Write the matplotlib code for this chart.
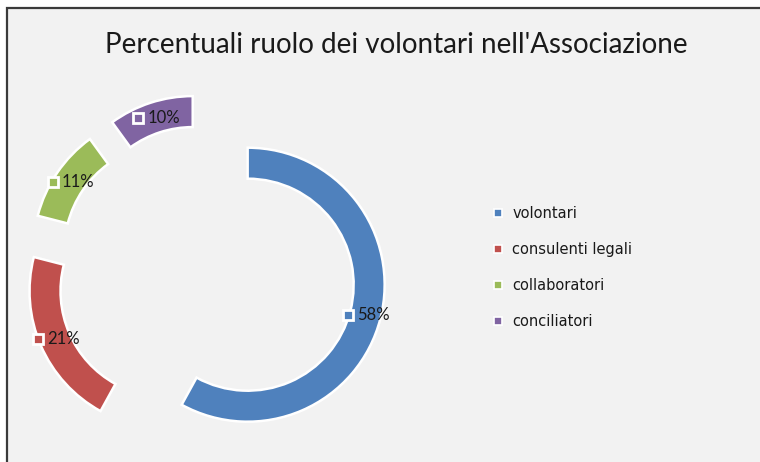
import numpy as np
import matplotlib
matplotlib.use("Agg")
import matplotlib.pyplot as plt
from matplotlib.patches import Rectangle
from matplotlib.lines import Line2D

# ---- data ----
categories = ["volontari", "consulenti legali", "collaboratori", "conciliatori"]
values = [58, 21, 11, 10]
label_texts = ["58%", "21%", "11%", "10%"]
title = "Percentuali ruolo dei volontari nell'Associazione"

colors = ["#4F81BD", "#C0504D", "#9BBB59", "#8064A2"]
W, H = 760, 462
fig = plt.figure(figsize=(W / 100, H / 100), dpi=100, facecolor="white")

# chart-area frame (extends past right/bottom edges like the reference crop)
frame = Rectangle((7 / W, -0.1), 1.2, 1 - 8 / H + 0.1, transform=fig.transFigure,
                  facecolor="#F2F2F2", edgecolor="#3A3A3A", linewidth=1.6, zorder=-10)
fig.patches.append(frame)

# axes covering whole figure: 1 data unit = R px
R = 137.0
cx, cy = 206.0, 274.0
ax = fig.add_axes([0, 0, 1, 1])
ax.set_facecolor("none")
ax.set_zorder(1)

ring = 31.0 / R
expl = 43.0 / R
wedges, _ = ax.pie(values, explode=[expl] * len(values), startangle=90, counterclock=False,
                   radius=1.0, center=(0, 0), colors=colors,
                   wedgeprops=dict(width=ring, edgecolor="white", linewidth=1.8))
ax.set_xlim(-cx / R, (W - cx) / R)
ax.set_ylim(-(H - cy) / R, cy / R)
ax.set_aspect("auto")
ax.axis("off")

# data labels (marker + percent) at ring middle
total = float(sum(values))
start = 90.0
px = 1.0 / R
rmid = 1.0 - ring / 2
for v, txt, col in zip(values, label_texts, colors):
    frac = v / total * 360.0
    mid = np.deg2rad(start - frac / 2)
    start -= frac
    ox, oy = expl * np.cos(mid), expl * np.sin(mid)
    mx, my = ox + rmid * np.cos(mid), oy + rmid * np.sin(mid)
    ax.plot([mx - 17 * px], [my], marker="s", markersize=6.5, markerfacecolor=col,
            markeredgecolor="white", markeredgewidth=2.0, linestyle="none", zorder=5)
    ax.text(mx - 8 * px, my, txt, ha="left", va="center", fontsize=12,
            family=["Lato", "DejaVu Sans"], color="#1a1a1a", zorder=6)

# title
fig.text(396 / W, 1 - 45 / H, title, ha="center", va="center", fontsize=20,
         family=["Lato", "DejaVu Sans"], color="#1a1a1a")

# legend
handles = [Line2D([0], [0], marker="s", linestyle="none", markersize=6,
                  markerfacecolor=c, markeredgecolor="white", markeredgewidth=1.2)
           for c in colors]
leg = fig.legend(handles, categories, loc="upper left",
                 bbox_to_anchor=(486 / W, 1 - 200 / H), frameon=False,
                 prop=dict(family="DejaVu Sans", size=10.5), labelspacing=1.45,
                 handlelength=0.8, handletextpad=0.6, borderaxespad=0)
for t in leg.get_texts():
    t.set_color("#1a1a1a")

fig.savefig("out.png", dpi=100, facecolor="white")
